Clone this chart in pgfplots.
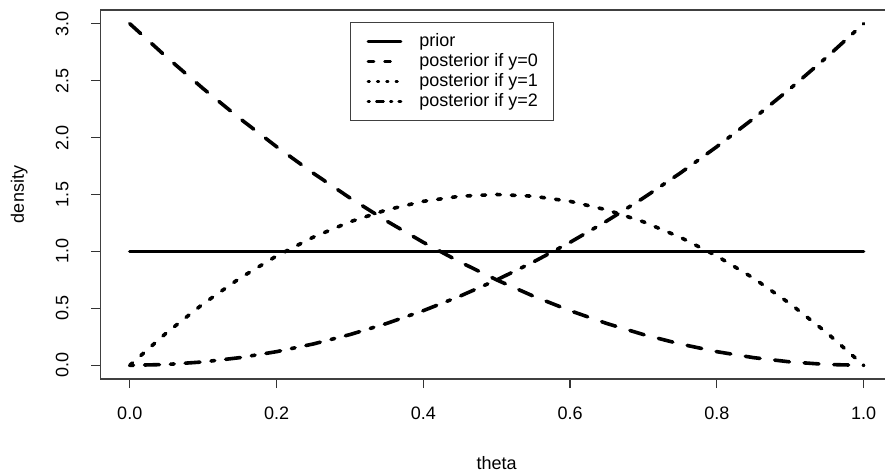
\documentclass[border=0pt]{standalone}
\usepackage{fontspec}
\setmainfont{Liberation Sans}
\usepackage{pgfplots}
\pgfplotsset{compat=1.18}

% posterior densities, theta in steps of 0.05
\pgfplotstableread{
theta  post0   post1  post2
0.00   3.0000  0.000  0.0000
0.05   2.7075  0.285  0.0075
0.10   2.4300  0.540  0.0300
0.15   2.1675  0.765  0.0675
0.20   1.9200  0.960  0.1200
0.25   1.6875  1.125  0.1875
0.30   1.4700  1.260  0.2700
0.35   1.2675  1.365  0.3675
0.40   1.0800  1.440  0.4800
0.45   0.9075  1.485  0.6075
0.50   0.7500  1.500  0.7500
0.55   0.6075  1.485  0.9075
0.60   0.4800  1.440  1.0800
0.65   0.3675  1.365  1.2675
0.70   0.2700  1.260  1.4700
0.75   0.1875  1.125  1.6875
0.80   0.1200  0.960  1.9200
0.85   0.0675  0.765  2.1675
0.90   0.0300  0.540  2.4300
0.95   0.0075  0.285  2.7075
1.00   0.0000  0.000  3.0000
}\post

\begin{document}
\begin{tikzpicture}[font=\fontsize{9}{11}\selectfont]
\begin{axis}[
    at={(50.2pt,46.5pt)}, anchor=south west,
    scale only axis, width=396.3pt, height=184.5pt,
    xmin=-0.04, xmax=1.04, ymin=-0.12, ymax=3.12,
    xtick={0,0.2,0.4,0.6,0.8,1},
    ytick={0,0.5,1,1.5,2,2.5,3},
    xtick pos=left, ytick pos=left,
    tick align=outside, major tick length=4.5pt,
    tick style={black!80, line width=0.6pt},
    axis line style={black!75, line width=0.6pt},
    /pgf/number format/fixed, /pgf/number format/fixed zerofill,
    /pgf/number format/precision=1, /pgf/number format/assume math mode=true,
    xticklabel shift=9.35pt, yticklabel shift=11.5pt,
    xticklabel style={anchor=north, inner sep=0pt},
    yticklabel style={rotate=90, anchor=base, inner sep=0pt},
    xlabel={theta}, ylabel={density},
    xlabel style={at={(axis description cs:0.5,-0.245)}, anchor=base, inner sep=0pt},
    ylabel style={at={(axis description cs:-0.0964,0.5)}, anchor=base, inner sep=0pt},
    legend style={at={(axis description cs:0.315,0.9675)}, anchor=north west,
        draw=black!75, line width=0.6pt, inner xsep=8pt, inner ysep=5.5pt,
        column sep=8.5pt, row sep=2pt, nodes={inner sep=0pt}},
    legend cell align=left,
    legend image code/.code={\draw[#1] (0pt,0pt) -- (16.5pt,0pt);},
    every axis plot/.append style={black, line width=1.8pt, line cap=round},
]
\addplot[solid, legend image post style={line width=1.3pt}] coordinates {(0,1) (1,1)};
\addplot[dash pattern=on 7.4pt off 7.4pt,
    legend image post style={line width=1.3pt, dash pattern=on 3pt off 5.3pt}]
    table[x=theta, y=post0] {\post};
\addplot[dash pattern=on 1.85pt off 5.55pt,
    legend image post style={line width=1.3pt, dash pattern=on 0.8pt off 3.85pt}]
    table[x=theta, y=post1] {\post};
\addplot[dash pattern=on 1.85pt off 5.55pt on 7.4pt off 5.55pt,
    legend image post style={line width=1.3pt, dash pattern=on 0.8pt off 3.4pt on 3.6pt off 3.4pt}]
    table[x=theta, y=post2] {\post};
\legend{prior, posterior if y=0, posterior if y=1, posterior if y=2}
\end{axis}
\pgfresetboundingbox
\useasboundingbox (0,0) rectangle (442.5pt,236pt);
\end{tikzpicture}
\end{document}
